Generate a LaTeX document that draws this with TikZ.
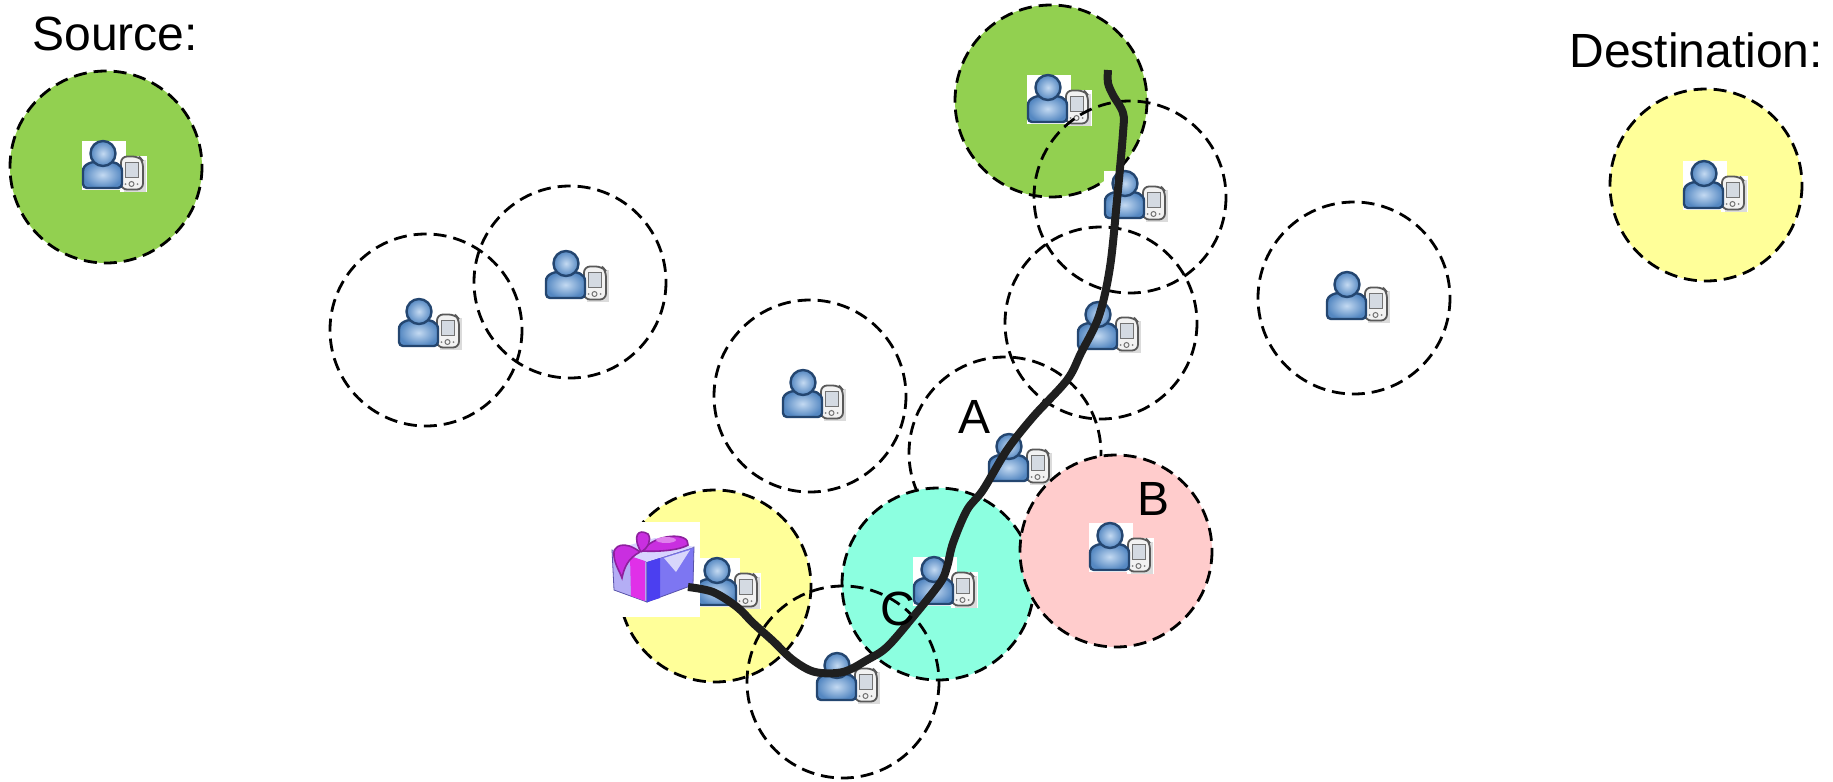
\documentclass[tikz,border=0pt]{standalone}
\usepackage{fontspec}
\setmainfont{Liberation Sans}
\definecolor{rgreen}{HTML}{92D050}
\definecolor{ryellow}{HTML}{FFFF99}
\definecolor{rcyan}{HTML}{8CFFE0}
\definecolor{rpink}{HTML}{FFCCCC}
\definecolor{ulight}{HTML}{C4DAF2}
\definecolor{umid}{HTML}{5588C2}
\definecolor{udark}{HTML}{244670}
\definecolor{screen}{HTML}{D4DAE2}
\definecolor{gleft}{HTML}{B4AEF5}
\definecolor{gright}{HTML}{7D76F2}
\definecolor{gtop}{HTML}{D8D4FF}
\definecolor{gribbon}{HTML}{E030E8}
\definecolor{gband}{HTML}{4B3FF0}
\definecolor{gbow}{HTML}{C92FE0}
\tikzset{
  coverage/.style={line width=1.4pt, dash pattern=on 6.5pt off 3.5pt},
  tag/.style={inner sep=0pt, anchor=base west, font=\fontsize{24}{29}\selectfont},
  user/.pic={
    % white backdrops of the person and the handheld
    \fill[white] (-22,-24.5) rectangle (22,24.5);
    \fill[white] (16,-9.5) rectangle (43,26.5);
    % handheld
    \fill[black!14] (20,-5) rectangle (42,27);
    \draw[line width=0.9pt, draw=black!65, fill=black!5, rounded corners=3pt]
      (17,-8.5) -- (35,-8.5) -- (39,-4) -- (39,24.5) -- (17,24.5) -- cycle;
    \draw[line width=0.5pt, draw=black!55, fill=screen] (21,-3) rectangle (34,12);
    \draw[line width=0.5pt, draw=black!55] (27.5,19) circle[radius=2.5];
    \fill[black!50] (21.5,19) circle[radius=1] (33.5,19) circle[radius=1];
    % person
    \draw[line width=1.2pt, draw=udark, inner color=ulight, outer color=umid, rounded corners=2pt]
      (-21,23) -- (-21,10) .. controls (-21,-1) and (-12,-3.5) .. (-1,-3.5)
      .. controls (10,-3.5) and (18,-1) .. (18,10) -- (18,23) -- cycle;
    \draw[line width=1.2pt, draw=udark, inner color=ulight, outer color=umid]
      (-1,-11.5) circle[radius=12.5];
  }
}
\begin{document}
\begin{tikzpicture}[x=0.5pt,y=-0.5pt]
\useasboundingbox (0,0) rectangle (1833,782);

% node positions
\coordinate (src) at (106,167);
\coordinate (n2) at (426,330);
\coordinate (n3) at (570,282);
\coordinate (n4) at (810,396);
\coordinate (top) at (1051,101);
\coordinate (n6) at (1130,197);
\coordinate (n7) at (1101,323);
\coordinate (n8) at (1354,298);
\coordinate (dst) at (1706,185);
\coordinate (na) at (1005,453);
\coordinate (nb) at (1116,551);
\coordinate (nc) at (938,584);
\coordinate (ny) at (715,586);
\coordinate (nbot) at (843,682);

% coverage discs, back to front
\draw[coverage] (na) circle[radius=96];
\pic at (1010,458) {user};
\draw[coverage, fill=rcyan] (nc) circle[radius=96];
\pic at (935,581) {user};
\draw[coverage, fill=rpink] (nb) circle[radius=96];
\pic at (1111,547) {user};
\draw[coverage, fill=ryellow] (ny) circle[radius=96];
\pic at (718,582) {user};
\draw[coverage, fill=rgreen] (top) circle[radius=96];
\pic at (1049,99) {user};
\draw[coverage, fill=rgreen] (src) circle[radius=96];
\pic at (104,165) {user};
\draw[coverage, fill=ryellow] (dst) circle[radius=96];
\pic at (1705,185) {user};

\draw[coverage] (n2) circle[radius=96];
\pic at (420,323) {user};
\draw[coverage] (n3) circle[radius=96];
\pic at (567,275) {user};
\draw[coverage] (n4) circle[radius=96];
\pic at (804,394) {user};
\draw[coverage] (n6) circle[radius=96];
\pic at (1126,195) {user};
\draw[coverage] (n7) circle[radius=96];
\pic at (1099,326) {user};
\draw[coverage] (n8) circle[radius=96];
\pic at (1348,296) {user};
\draw[coverage] (nbot) circle[radius=96];
\pic at (838,677) {user};

% the parcel
\fill[white] (603,522) rectangle (700,617);
\draw[line width=0.4pt, draw=gright!70!black, fill=gleft] (612,550) -- (647,562) -- (647,602) -- (614,590) -- cycle;
\draw[line width=0.4pt, draw=gright!70!black, fill=gright] (647,562) -- (694,547) -- (693,585) -- (647,602) -- cycle;
\fill[gtop] (612,550) -- (655,538) -- (694,547) -- (647,562) -- cycle;
\fill[gribbon] (630,556) -- (645,561) -- (645,601) -- (631,596) -- cycle;
\fill[gband] (647,562) -- (660,558) -- (660,598) -- (647,602) -- cycle;
\fill[white!70!gright] (664,558) -- (690,550) -- (676,572) -- cycle;
\draw[line width=0.8pt, draw=gbow!70!black, fill=gbow]
  (640,552) .. controls (625,540) and (612,545) .. (614,556)
  .. controls (615,565) and (620,572) .. (622,578)
  .. controls (624,568) and (628,558) .. (640,552);
\draw[line width=0.8pt, draw=gbow!70!black, fill=gbow]
  (642,551) .. controls (655,533) and (690,532) .. (688,545)
  .. controls (680,550) and (660,552) .. (642,551);
\draw[line width=0.8pt, draw=gbow!70!black, fill=gbow]
  (641,552) .. controls (632,536) and (638,528) .. (648,534)
  .. controls (652,540) and (648,548) .. (641,552);
\fill[gbow!60!white] (666,540) ellipse[x radius=10, y radius=3];

% route taken by the parcel
\draw[line width=4pt, color=black!88, line join=round]
  plot[smooth, tension=0.55] coordinates {
    (688,587) (713,592) (737,607) (753,623) (773,641) (793,660) (815,672)
    (843,672) (867,660) (887,647) (913,617) (940,583) (947,567) (953,543)
    (967,510) (983,490) (1007,450) (1033,417) (1067,380) (1081,353)
    (1099,316) (1110,267) (1117,200) (1123,133) (1123,113) (1113,95)
    (1108,83) (1108,70)};

% labels
\node[tag] (lsrc) at (32,50) {Source:};
\node[tag] (ldst) at (1569,67) {Destination:};
\node[tag] (la) at (958,433) {A};
\node[tag] (lb) at (1137,515) {B};
\node[tag] (lc) at (880,625) {C};
\end{tikzpicture}
\end{document}
